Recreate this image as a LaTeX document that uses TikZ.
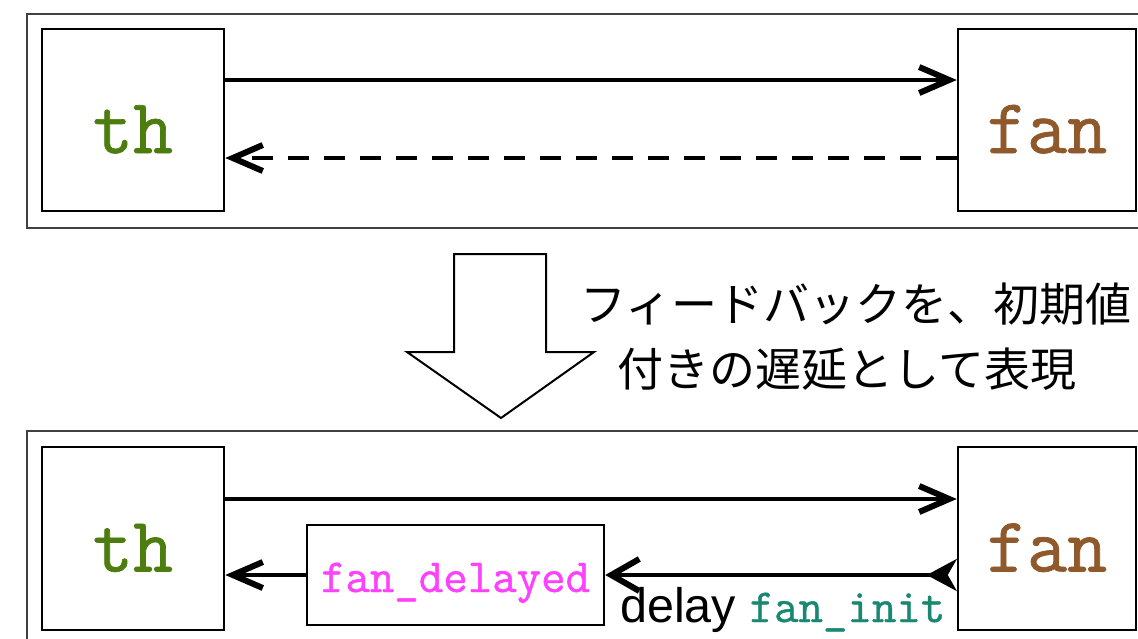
\documentclass[tikz,border=0pt]{standalone}
\usepackage{fontspec}
\usetikzlibrary{arrows.meta}
\newfontfamily\jpfont{Noto Sans CJK JP}
\newfontfamily\lsans{Liberation Sans}
\newfontfamily\bmono[FakeBold=0.9]{Latin Modern Mono}
\definecolor{thgreen}{RGB}{77,124,15}
\definecolor{fanbrown}{RGB}{143,89,43}
\definecolor{fdmagenta}{RGB}{255,64,255}
\definecolor{initteal}{RGB}{26,135,112}
\begin{document}
\begin{tikzpicture}[x=1pt,y=-1pt,
  frame/.style={draw=black!75,line width=2pt},
  blk/.style={draw=black,line width=2.5pt,fill=white,inner sep=0pt,
    text height=66pt,text depth=0pt,
    font=\fontsize{78}{80}\selectfont\bmono},
  smallbox/.style={draw=black,line width=2.5pt,fill=white,inner sep=0pt,
    text height=34pt,text depth=0pt,
    font=\fontsize{47.5}{49}\selectfont\bmono},
  conn/.style={line width=4pt},
  barb/.tip={Straight Barb[length=30pt,width=26pt,line width=6pt]},
  wbarb/.tip={Straight Barb[length=28pt,width=32pt,line width=6pt]},
  stl/.tip={Stealth[reversed,length=30pt,width=32pt,inset=9pt]},
  jp/.style={inner sep=0pt,font=\fontsize{46}{48}\selectfont\jpfont}
]
\useasboundingbox (0,0) rectangle (1138,638);
\clip (0,0) rectangle (1138,638);
% frames
\draw[frame] (27,14) rectangle (1170,228);
\draw[frame] (27,431) rectangle (1170,670);
% top boxes
\node[blk,minimum width=182pt,minimum height=182pt,text=thgreen] (th1) at (133,120) {th};
\node[blk,minimum width=178pt,minimum height=182pt,text=fanbrown] (fan1) at (1047,120) {fan};
% bottom boxes
\node[blk,minimum width=182pt,minimum height=183pt,text=thgreen] (th2) at (133,538.5) {th};
\node[blk,minimum width=178pt,minimum height=183pt,text=fanbrown] (fan2) at (1047,538.5) {fan};
\node[smallbox,minimum width=297pt,minimum height=100pt,text=fdmagenta] (fd) at (455.5,575) {fan\_delayed};
% big arrow
\draw[line width=2pt,fill=white] (454,254) -- (546,254) -- (546,352) -- (594,352) -- (501,418) -- (407,352) -- (454,352) -- cycle;
% japanese text
\node[jp] (t1) at (856,304) {フィードバックを、初期値};
\node[jp] (t2) at (847,369) {付きの遅延として表現};
% top connectors
\draw[conn,-{barb}] ([yshift=40pt]th1.east) -- ([yshift=40pt]fan1.west);
\draw[conn,-{barb},dash pattern=on 21pt off 15pt] ([yshift=-38pt]fan1.west) -- ([yshift=-38pt]th1.east);
% bottom connectors
\draw[conn,-{barb}] ([yshift=39.5pt]th2.east) -- ([yshift=39.5pt]fan2.west);
\draw[conn,{stl}-{wbarb}] ([yshift=-36.5pt]fan2.west) -- (fd.east);
\draw[conn,-{barb}] (fd.west) -- ([yshift=-36.5pt]th2.east);
% label
\node[anchor=base west,inner sep=0pt,font=\fontsize{48.5}{50}\selectfont\lsans] (lbl) at (620,622) {delay {\fontsize{47.5}{49}\selectfont\bmono\color{initteal}fan\_init}};
\end{tikzpicture}
\end{document}
